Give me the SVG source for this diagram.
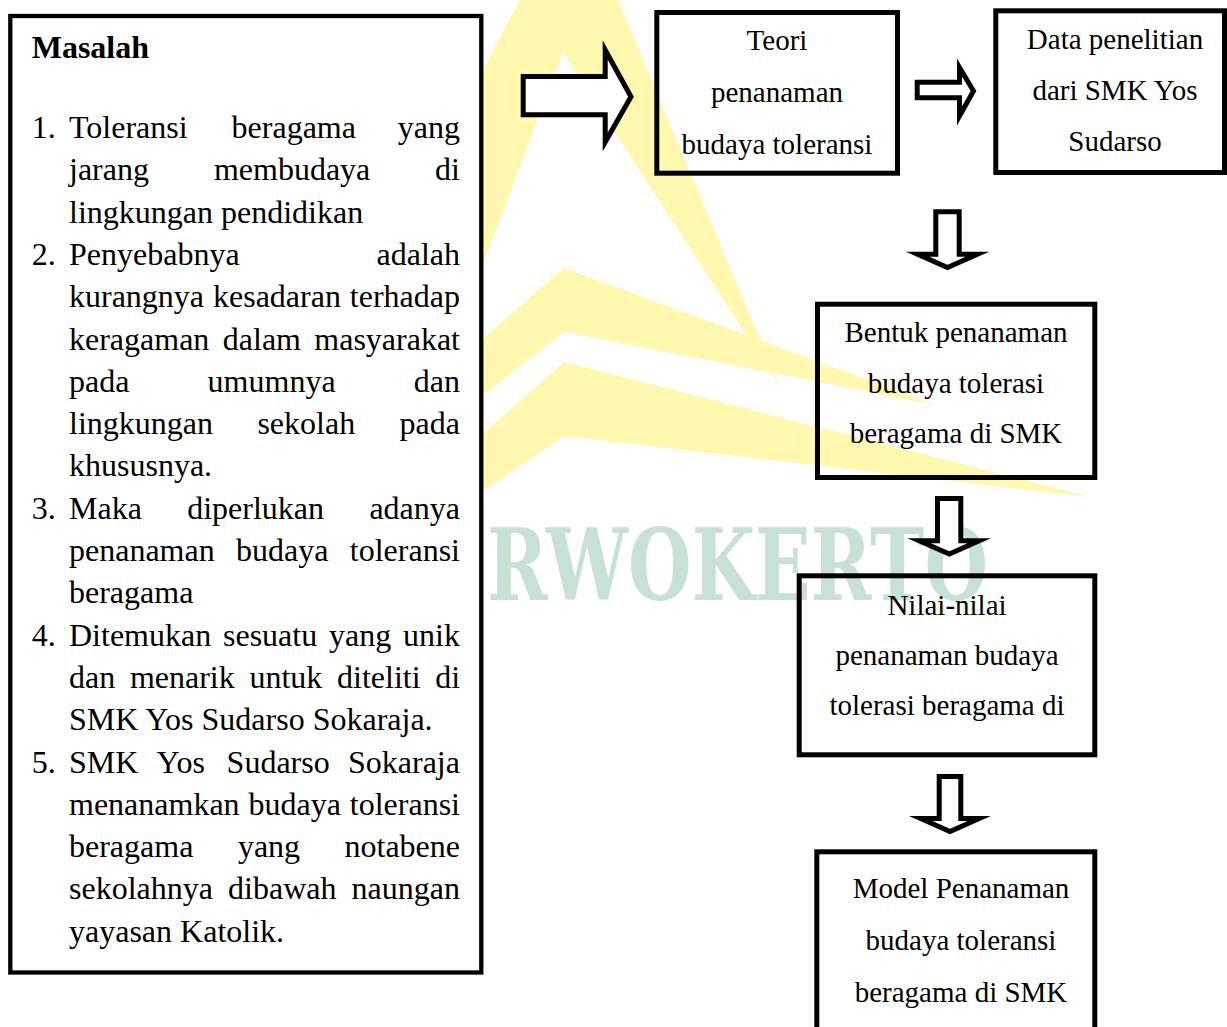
<svg xmlns="http://www.w3.org/2000/svg" width="1227" height="1027" viewBox="0 0 1227 1027">
<style>
.box{fill:none;stroke:#000;stroke-width:5}
.lbox{fill:#fff;stroke:#000;stroke-width:4.3}
.arr{fill:#fff;stroke:#000;stroke-width:5;stroke-linejoin:miter;stroke-miterlimit:10}
.lt{font-family:"Liberation Serif","Times New Roman",serif;font-size:32px;fill:#000}
.rt{font-family:"Liberation Serif","Times New Roman",serif;font-size:29px;fill:#000;text-anchor:middle}
.wm{fill:#FFF8AE}
</style>
<rect x="0" y="0" width="1227" height="1027" fill="#fff"/>
<g id="watermark">
<polygon class="wm" points="520,0 618,0 780,387 563,52 470,300 470,94"/>
<polygon class="wm" points="470,350 564,268 935,405 564,332 470,405"/>
<polygon class="wm" points="470,445 564,362 1090,497 564,436 470,500"/>
<text x="487" y="600" textLength="501" lengthAdjust="spacingAndGlyphs" font-family="'DejaVu Serif','Liberation Serif',serif" font-weight="bold" font-size="100" fill="#C8E1D7">RWOKERTO</text>
</g>
<g id="masalah">
<rect class="lbox" x="10.3" y="16" width="471" height="956.5"/>
<text class="lt" x="31.7" y="58.3" font-weight="bold">Masalah</text>
<text class="lt"><tspan x="31.7" y="138">1.</tspan><tspan x="69" y="138">Toleransi</tspan><tspan x="231.6" y="138">beragama</tspan><tspan x="397.8" y="138">yang</tspan></text>
<text class="lt"><tspan x="69" y="180.3">jarang</tspan><tspan x="213.9" y="180.3">membudaya</tspan><tspan x="435.1" y="180.3">di</tspan></text>
<text class="lt" x="69" y="222.6">lingkungan pendidikan</text>
<text class="lt"><tspan x="31.7" y="264.9">2.</tspan><tspan x="69" y="264.9">Penyebabnya</tspan><tspan x="376.5" y="264.9">adalah</tspan></text>
<text class="lt"><tspan x="69" y="307.2">kurangnya</tspan><tspan x="213" y="307.2">kesadaran</tspan><tspan x="349.8" y="307.2">terhadap</tspan></text>
<text class="lt"><tspan x="69" y="349.5">keragaman</tspan><tspan x="222.8" y="349.5">dalam</tspan><tspan x="314.3" y="349.5">masyarakat</tspan></text>
<text class="lt"><tspan x="69" y="391.8">pada</tspan><tspan x="207.6" y="391.8">umumnya</tspan><tspan x="413.8" y="391.8">dan</tspan></text>
<text class="lt"><tspan x="69" y="434.1">lingkungan</tspan><tspan x="257.4" y="434.1">sekolah</tspan><tspan x="399.6" y="434.1">pada</tspan></text>
<text class="lt" x="69" y="476.4">khususnya.</text>
<text class="lt"><tspan x="31.7" y="518.7">3.</tspan><tspan x="69" y="518.7">Maka</tspan><tspan x="187.2" y="518.7">diperlukan</tspan><tspan x="369.4" y="518.7">adanya</tspan></text>
<text class="lt"><tspan x="69" y="561">penanaman</tspan><tspan x="236" y="561">budaya</tspan><tspan x="349.8" y="561">toleransi</tspan></text>
<text class="lt" x="69" y="603.3">beragama</text>
<text class="lt"><tspan x="31.7" y="645.6">4.</tspan><tspan x="69" y="645.6">Ditemukan</tspan><tspan x="223" y="645.6">sesuatu</tspan><tspan x="329.1" y="645.6">yang</tspan><tspan x="403.1" y="645.6">unik</tspan></text>
<text class="lt"><tspan x="69" y="687.9">dan</tspan><tspan x="129.9" y="687.9">menarik</tspan><tspan x="249.4" y="687.9">untuk</tspan><tspan x="337" y="687.9">diteliti</tspan><tspan x="435.2" y="687.9">di</tspan></text>
<text class="lt" x="69" y="730.2">SMK Yos Sudarso Sokaraja.</text>
<text class="lt"><tspan x="31.7" y="772.5">5.</tspan><tspan x="69" y="772.5">SMK</tspan><tspan x="156.6" y="772.5">Yos</tspan><tspan x="226.6" y="772.5">Sudarso</tspan><tspan x="348" y="772.5">Sokaraja</tspan></text>
<text class="lt"><tspan x="69" y="814.8">menanamkan</tspan><tspan x="248.5" y="814.8">budaya</tspan><tspan x="349.8" y="814.8">toleransi</tspan></text>
<text class="lt"><tspan x="69" y="857.1">beragama</tspan><tspan x="237.9" y="857.1">yang</tspan><tspan x="344.5" y="857.1">notabene</tspan></text>
<text class="lt"><tspan x="69" y="899.4">sekolahnya</tspan><tspan x="228.1" y="899.4">dibawah</tspan><tspan x="351.6" y="899.4">naungan</tspan></text>
<text class="lt" x="69" y="941.7">yayasan Katolik.</text>
</g>
<g id="connectors">
<path class="arr" d="M523.2,76.5 L605.2,76.5 L605.2,50 L631,96.7 L605.2,142 L605.2,114.8 L523.2,114.8 Z"/>
<path class="arr" d="M917.2,82.2 L959.5,82.2 L959.5,67.5 L973.5,91 L959.5,116 L959.5,97.8 L917.2,97.8 Z"/>
<path class="arr" d="M935.8,211.8 L959.2,211.8 L959.2,254.2 L977.5,254.2 L947.5,267.5 L917.5,254.2 L935.8,254.2 Z"/>
<path class="arr" d="M937.5,498.5 L960.8,498.5 L960.8,540.8 L979.2,540.8 L949.3,554 L919.2,540.8 L937.5,540.8 Z"/>
<path class="arr" d="M939.2,776.5 L960.8,776.5 L960.8,818.5 L979.2,818.5 L950,831.5 L920.8,818.5 L939.2,818.5 Z"/>
</g>
<g id="teori">
<rect class="box" x="656.8" y="12.5" width="240.7" height="160.7"/>
<text class="rt" x="777" y="50">Teori</text>
<text class="rt" x="777" y="101.7">penanaman</text>
<text class="rt" x="777" y="153.5">budaya toleransi</text>
</g>
<g id="data">
<rect class="box" x="995.8" y="10.8" width="228.7" height="161.7"/>
<text class="rt" x="1115" y="49.3">Data penelitian</text>
<text class="rt" x="1115" y="100">dari SMK Yos</text>
<text class="rt" x="1115" y="150.5">Sudarso</text>
</g>
<g id="bentuk">
<rect class="box" x="817.5" y="304.2" width="277.3" height="173.3"/>
<text class="rt" x="956" y="341.7">Bentuk penanaman</text>
<text class="rt" x="956" y="392.5">budaya tolerasi</text>
<text class="rt" x="956" y="443.3">beragama di SMK</text>
</g>
<g id="nilai">
<rect class="box" x="799.2" y="575.8" width="295.6" height="179"/>
<text class="rt" x="947" y="615">Nilai-nilai</text>
<text class="rt" x="947" y="665">penanaman budaya</text>
<text class="rt" x="947" y="715">tolerasi beragama di</text>
</g>
<g id="model">
<rect class="box" x="816.8" y="851.8" width="278" height="200"/>
<text class="rt" x="961" y="898.3">Model Penanaman</text>
<text class="rt" x="961" y="950">budaya toleransi</text>
<text class="rt" x="961" y="1001.7">beragama di SMK</text>
</g>
</svg>
